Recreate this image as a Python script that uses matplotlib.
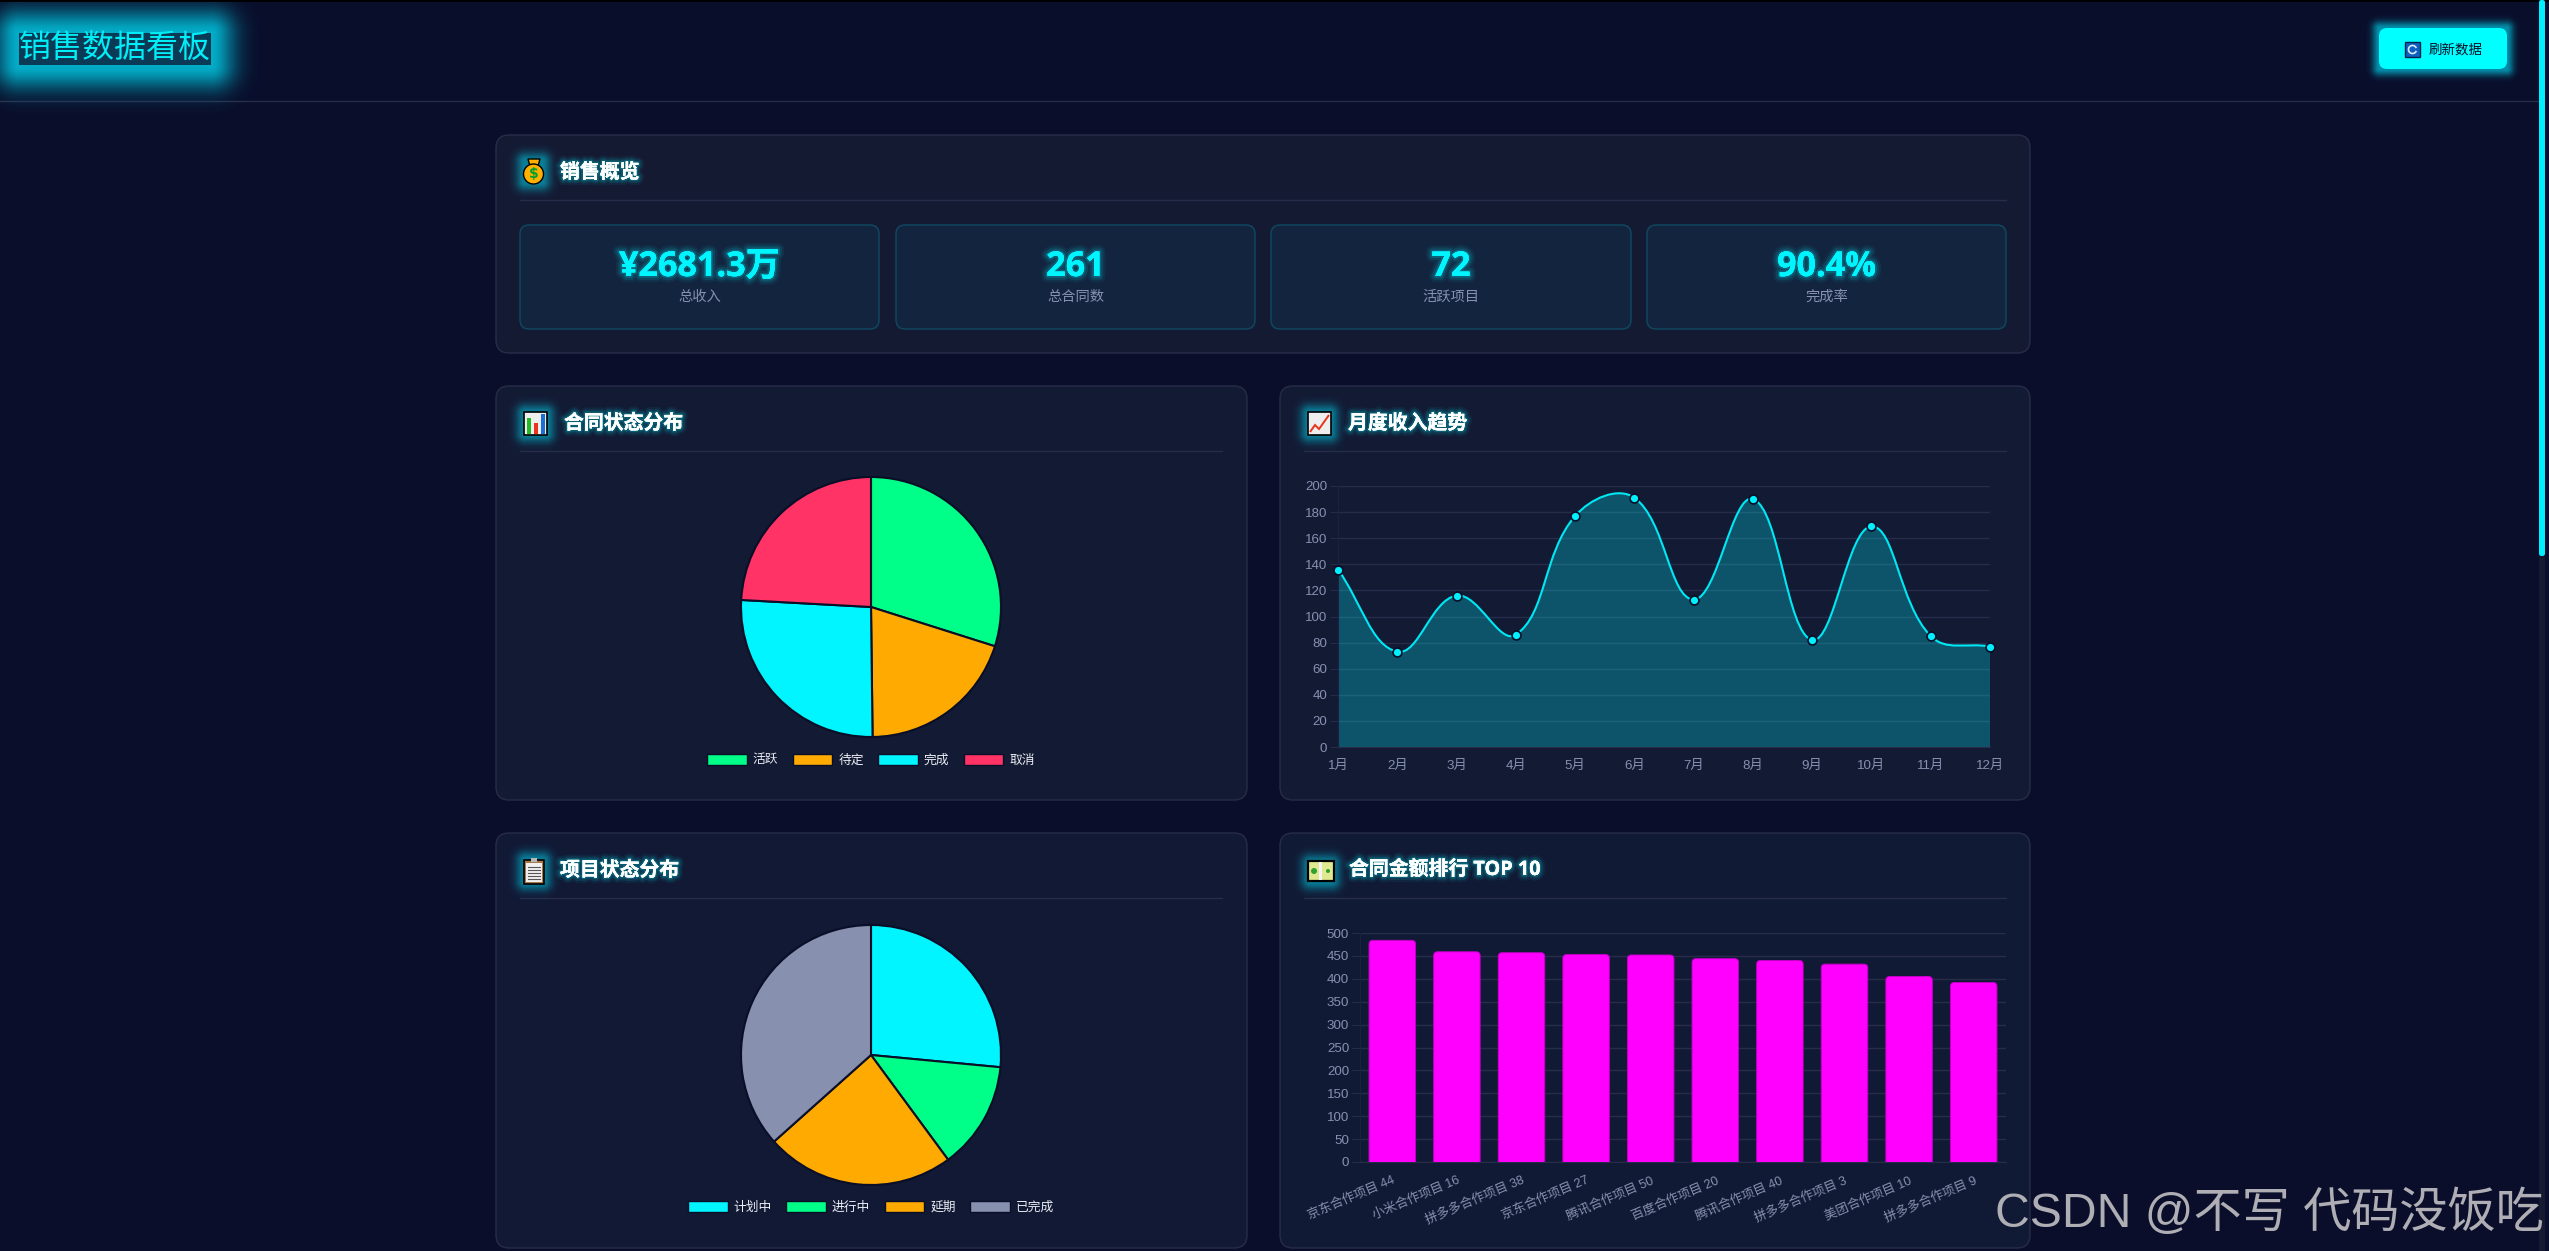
import numpy as np
import matplotlib
matplotlib.use('Agg')
import matplotlib.pyplot as plt
import matplotlib.patheffects as pe
from matplotlib.patches import FancyBboxPatch, PathPatch, Rectangle, Circle, Polygon, Arc
from matplotlib.path import Path

plt.rcParams['font.family'] = ['Liberation Sans', 'Noto Sans CJK SC', 'DejaVu Sans']

W, H = 2549, 1251
SHIFT = 1

# data
stat_values = ['¥2681.3万', '261', '72', '90.4%']
stat_labels = ['总收入', '总合同数', '活跃项目', '完成率']

contract_labels = ['活跃', '待定', '完成', '取消']
contract_values = [78, 52, 68, 63]
contract_colors = ['#00ff88', '#ffaa00', '#00f5ff', '#ff3366']

project_labels = ['计划中', '进行中', '延期', '已完成']
project_values = [26.5, 13.4, 23.5, 36.6]
project_colors = ['#00f5ff', '#00ff88', '#ffaa00', '#8890b0']

months = ['1月', '2月', '3月', '4月', '5月', '6月', '7月', '8月', '9月', '10月', '11月', '12月']
revenue = [136, 73, 116, 86, 177, 191, 113, 190, 82, 169, 85, 77]

top_names = ['京东合作项目 44', '小米合作项目 16', '拼多多合作项目 38', '京东合作项目 27', '腾讯合作项目 50',
             '百度合作项目 20', '腾讯合作项目 40', '拼多多合作项目 3', '美团合作项目 10', '拼多多合作项目 9']
top_values = [484, 459, 457, 453, 452, 444, 440, 432, 405, 392]

BG = '#0a0e2a'
PANEL = '#131a34'
EDGE = '#272d49'
CYAN = '#00f5ff'
GRAY = '#8890b0'
DARK = '#0a0e27'
CJK = ['Noto Sans CJK SC', 'DejaVu Sans']
LATIN_CJK = ['Open Sans', 'Noto Sans CJK SC', 'DejaVu Sans']

fig = plt.figure(figsize=(W / 100, H / 100), dpi=100, facecolor=BG)

bg = fig.add_axes([0, 0, 1, 1])
bg.set_axis_off()


def px_axes(x0, y0, x1, y1):
    y0 += SHIFT
    y1 += SHIFT
    ax = fig.add_axes([x0 / W, 1 - y1 / H, (x1 - x0) / W, (y1 - y0) / H])
    ax.patch.set_alpha(0)
    return ax


def box(x0, y0, x1, y1, r, fc, ec='none', lw=0.72, z=2):
    p = FancyBboxPatch((x0, y0), x1 - x0, y1 - y0, boxstyle='round,pad=0,rounding_size=%g' % r,
                       fc=fc, ec=ec, lw=lw, zorder=z)
    bg.add_patch(p)
    return p


def glow(x0, y0, x1, y1, spread, strength, z=3):
    # soft cyan halo around a rectangle
    m = int(spread * 3)
    xs = np.arange(x0 - m, x1 + m)
    ys = np.arange(max(y0 - m, 0), y1 + m)
    xx, yy = np.meshgrid(xs, ys)
    dx = np.maximum(np.maximum(x0 - xx, xx - x1), 0)
    dy = np.maximum(np.maximum(y0 - yy, yy - y1), 0)
    d = np.hypot(dx, dy)
    img = np.zeros(d.shape + (4,))
    img[..., 1] = 0.9
    img[..., 2] = 1.0
    img[..., 3] = strength * np.exp(-(d / spread) ** 2)
    bg.imshow(img, extent=(xs[0], xs[-1], ys[-1], ys[0]), aspect='auto', zorder=z, interpolation='bilinear')


def txt(x, y, s, size, color, ha='center', weight='normal', glow_w=0, glow_c=CYAN, z=8, family=CJK):
    t = bg.text(x, y, s, fontsize=size, color=color, ha=ha, va='center', fontweight=weight, family=family, zorder=z)
    if glow_w:
        t.set_path_effects([pe.withStroke(linewidth=glow_w * 2, foreground=glow_c, alpha=0.06),
                            pe.withStroke(linewidth=glow_w * 1.3, foreground=glow_c, alpha=0.10),
                            pe.withStroke(linewidth=glow_w * 0.6, foreground=glow_c, alpha=0.18),
                            pe.Normal()])
    return t


def section_title(x, y, s):
    txt(x, y, s, 14.3, 'white', ha='left', weight='bold', glow_w=4, family=LATIN_CJK)


# page chrome
box(0, 0, W, 101, 0.01, '#090e2b', z=1)
bg.add_patch(Rectangle((0, 0), W, 1.5, fc='#000000', ec='none', zorder=9))
bg.plot([0, 2539], [101, 101], color=EDGE, lw=1, zorder=2)
bg.add_patch(Rectangle((2539, 0), 6, H, fc='#151a30', ec='none', zorder=9))
box(2539, 0, 2545, 556, 2.5, '#00f0ff', z=10)

# page title with the boxed glow
glow(19, 33, 211, 65, 24, 0.74)
bg.add_patch(Rectangle((19, 33), 192, 32, fc='#0a3a55', ec='none', zorder=4))
txt(115, 49, '销售数据看板', 23, '#00eef8')

# refresh button
glow(2379, 28, 2507, 69, 7, 0.6)
box(2379, 28, 2507, 69, 8, '#00ffff', z=4)
bg.add_patch(Rectangle((2405, 42), 15, 15, fc='#0f5fc0', ec='#07224a', lw=1, zorder=5))
bg.add_patch(Arc((2412.5, 49.5), 8, 8, theta1=20, theta2=340, ec='#d8ecff', lw=1.2, zorder=6))
txt(2456, 49.5, '刷新数据', 9.7, '#0a0e27')

# panels
s = SHIFT
panels = [(496, 134, 2030, 352), (496, 385, 1247, 799), (1280, 385, 2030, 799),
          (496, 832, 1247, 1247), (1280, 832, 2030, 1247)]
fills = ['#151a33', '#131a34', '#131a34', '#111935', '#111a35']
for (x0, y0, x1, y1), c in zip(panels, fills):
    box(x0, y0 + s, x1, y1 + s, 13, c, EDGE, lw=1)
for x0, x1, y in [(520, 2006, 199), (520, 1222, 450), (1304, 2006, 450), (520, 1222, 897), (1304, 2006, 897)]:
    bg.plot([x0, x1], [y + s, y + s], color=EDGE, lw=1, zorder=3)

section_title(560, 172 + s, '销售概览')
section_title(564, 423 + s, '合同状态分布')
section_title(1348, 423 + s, '月度收入趋势')
section_title(560, 870 + s, '项目状态分布')
section_title(1349, 869 + s, '合同金额排行 TOP 10')

# stat cards
card_x = [(520, 879), (896, 1255), (1271, 1631), (1647, 2006)]
for (x0, x1), v, lab in zip(card_x, stat_values, stat_labels):
    box(x0, 224 + s, x1, 328 + s, 9, '#13243f', '#0e4a62', lw=1, z=3)
    txt((x0 + x1) / 2, 266 + s, v, 24.6, CYAN, weight='bold', glow_w=4.5, family=LATIN_CJK)
    txt((x0 + x1) / 2, 296 + s, lab, 10.3, GRAY)

# emoji icons, drawn by hand
for ix0, iy0, ix1, iy1 in [(523, 158, 544, 183), (523, 410, 548, 435), (1307, 410, 1332, 435),
                           (523, 857, 545, 883), (1308, 860, 1334, 882)]:
    glow(ix0 + 2, iy0 + 2 + s, ix1 - 2, iy1 - 2 + s, 9, 0.5)

# money bag
bg.add_patch(Polygon([[528, 158 + s], [540, 158 + s], [538, 165 + s], [530, 165 + s]], fc='#ffb000', ec='black',
                     lw=1, zorder=6))
bg.add_patch(Circle((533.5, 173 + s), 10, fc='#ffb000', ec='black', lw=1, zorder=6))
bg.text(533.5, 173 + s, '$', fontsize=10, fontweight='bold', color='#00a030', ha='center', va='center', zorder=7,
        family=['DejaVu Sans'])

# bar chart icon
bg.add_patch(Rectangle((524, 411 + s), 23, 23, fc='#eeeeee', ec='black', lw=1.2, zorder=6))
for bx, bh, bc in [(527, 16, '#22bb22'), (534, 11, '#e8341c'), (541, 20, '#1a70d8')]:
    bg.add_patch(Rectangle((bx, 433 + s - bh), 4, bh, fc=bc, ec='none', zorder=7))

# line chart icon
bg.add_patch(Rectangle((1308, 411 + s), 23, 23, fc='#eeeeee', ec='black', lw=1.2, zorder=6))
bg.add_patch(Polygon([[1310, 431 + s], [1315, 424 + s], [1319, 428 + s], [1329, 414 + s]], closed=False, fill=False,
                     ec='#e8341c', lw=1.4, zorder=7))

# clipboard icon
bg.add_patch(Rectangle((524, 859 + s), 20, 24, fc='#a87848', ec='black', lw=1.2, zorder=6))
bg.add_patch(Rectangle((526, 862 + s), 16, 19, fc='#f0f0f0', ec='none', zorder=7))
bg.add_patch(Rectangle((531, 857 + s), 6, 4, fc='#b8b8b8', ec='none', zorder=7))
for ly in [866, 869, 872, 875, 878]:
    bg.plot([528, 540], [ly + s, ly + s], color='#555555', lw=0.8, zorder=8)

# banknote icon
bg.add_patch(Rectangle((1308, 860 + s), 26, 20, fc='#e0e890', ec='black', lw=1.6, zorder=6))
bg.add_patch(Rectangle((1319, 861 + s), 3, 18, fc='#f4f4f4', ec='none', zorder=7))
bg.add_patch(Circle((1314, 870 + s), 3, fc='#30a030', ec='none', zorder=7))
bg.add_patch(Circle((1328, 870 + s), 2, fc='#30a030', ec='none', zorder=7))

bg.set_xlim(0, W)
bg.set_ylim(H, 0)


def pie_panel(cx, cy, values, colors, labels, legend_y):
    ax = px_axes(cx - 130, cy - 130, cx + 130, cy + 130)
    wedges, _ = ax.pie(values, colors=colors, startangle=90, counterclock=False, radius=1,
                       wedgeprops={'edgecolor': DARK, 'linewidth': 1.5})
    ax.set_xlim(-1, 1)
    ax.set_ylim(-1, 1)
    for w in wedges:
        w.set_clip_on(False)
    leg = ax.legend(wedges, labels, loc='center', bbox_to_anchor=(cx / W, 1 - (legend_y + SHIFT) / H),
                    bbox_transform=fig.transFigure, ncols=4, frameon=False,
                    handlelength=3.1, handleheight=0.95, handletextpad=0.47, columnspacing=1.13,
                    prop={'family': CJK, 'size': 9.2}, borderpad=0, labelcolor='#eceef4')
    for h in leg.legend_handles:
        h.set_edgecolor(DARK)
        h.set_linewidth(1)


pie_panel(871, 606, contract_values, contract_colors, contract_labels, 759)
pie_panel(871, 1054, project_values, project_colors, project_labels, 1206)


def style_axis(ax, size):
    ax.set_axisbelow(True)
    ax.grid(True, axis='y', color='#272d49', lw=1)
    ax.tick_params(axis='y', length=5.8, width=0.7, color='#272d49', labelcolor=GRAY, labelsize=size, pad=2)
    ax.tick_params(axis='x', length=0, labelcolor=GRAY, labelsize=size)
    for sp in ['top', 'right']:
        ax.spines[sp].set_visible(False)
    ax.spines['left'].set_color('#1b2140')
    ax.spines['bottom'].set_color('#272d49')


def spline_path(xs, ys, px_x, px_y, t=0.4):
    # bezier through the points, same tension logic as Chart.js
    n = len(xs)
    verts = [(xs[0], ys[0])]
    codes = [Path.MOVETO]
    ctrl = []
    for i in range(n):
        p = (xs[max(i - 1, 0)], ys[max(i - 1, 0)])
        c = (xs[i], ys[i])
        q = (xs[min(i + 1, n - 1)], ys[min(i + 1, n - 1)])
        d01 = np.hypot((c[0] - p[0]) * px_x, (c[1] - p[1]) * px_y)
        d12 = np.hypot((q[0] - c[0]) * px_x, (q[1] - c[1]) * px_y)
        s01 = d01 / (d01 + d12)
        s12 = d12 / (d01 + d12)
        ctrl.append(((c[0] - t * s01 * (q[0] - p[0]), c[1] - t * s01 * (q[1] - p[1])),
                     (c[0] + t * s12 * (q[0] - p[0]), c[1] + t * s12 * (q[1] - p[1]))))
    for i in range(1, n):
        verts += [ctrl[i - 1][1], ctrl[i][0], (xs[i], ys[i])]
        codes += [Path.CURVE4] * 3
    return verts, codes


# monthly revenue
ax_line = px_axes(1338, 485, 1990, 746)
style_axis(ax_line, 9.6)
xs = np.arange(len(months))
verts, codes = spline_path(xs, revenue, 652 / 11, 261 / 200)
fill_verts = verts + [(xs[-1], 0), (xs[0], 0), (xs[0], revenue[0])]
fill_codes = codes + [Path.LINETO, Path.LINETO, Path.CLOSEPOLY]
ax_line.add_patch(PathPatch(Path(fill_verts, fill_codes), fc='#00f0ff', alpha=0.27, ec='none', zorder=2))
ax_line.add_patch(PathPatch(Path(verts, codes), fc='none', ec='#00e8f4', lw=1.5, zorder=3))
ax_line.plot(xs, revenue, ls='none', marker='o', ms=6.4, mfc='#00f0ff', mec=DARK, mew=1.2, zorder=4, clip_on=False)
ax_line.set_xlim(0, 11)
ax_line.set_ylim(0, 200)
ax_line.set_yticks(range(0, 201, 20))
ax_line.set_xticks(xs)
ax_line.set_xticklabels(months)
ax_line.tick_params(axis='x', pad=9)

# top 10 contracts
ax_bar = px_axes(1360, 932, 2006, 1161)
style_axis(ax_bar, 9.6)
bar_w = 0.72
aspect = (646 / 10) / (229 / 500)
for i, v in enumerate(top_values):
    ax_bar.add_patch(FancyBboxPatch((i - bar_w / 2, -30), bar_w, v + 30,
                                    boxstyle='round,pad=0,rounding_size=0.06', mutation_aspect=aspect,
                                    fc='#ff00ff', ec='#c000c4', lw=0.7, zorder=3))
ax_bar.set_xlim(-0.5, 9.5)
ax_bar.set_ylim(0, 500)
ax_bar.set_yticks(range(0, 501, 50))
ax_bar.set_xticks(range(len(top_names)))
ax_bar.set_xticklabels(top_names, rotation=23, ha='right', rotation_mode='anchor', fontsize=9.1)
ax_bar.tick_params(axis='x', pad=9)

# watermark
fig.text(2544 / W, 1 - 1213 / H, 'CSDN @不写 代码没饭吃', fontsize=34.7, color='#aeaeb4', ha='right', va='center',
         family=['Liberation Sans', 'Noto Sans CJK SC'], zorder=20)

fig.savefig('out.png', dpi=100, facecolor=BG)
